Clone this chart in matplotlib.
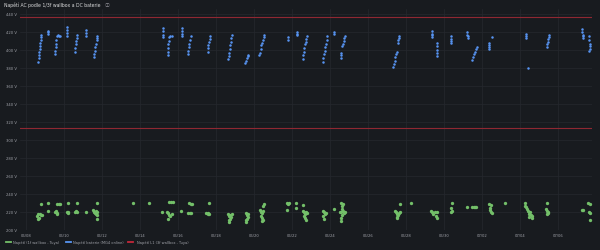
import numpy as np
import matplotlib
matplotlib.use("Agg")
import matplotlib.pyplot as plt
from matplotlib.lines import Line2D

# x = days since 06/08 00:00
date_ticks = [0, 2, 4, 6, 8, 10, 12, 14, 16, 18, 20, 22, 24, 26, 28]
date_labels = ["06/08", "06/10", "06/12", "06/14", "06/16", "06/18", "06/20", "06/22",
               "06/24", "06/26", "06/28", "06/30", "07/02", "07/04", "07/06"]
volt_ticks = [200, 220, 240, 260, 280, 300, 320, 340, 360, 380, 400, 420, 440]

# Napětí baterie (MG4 online): (day, V)
battery = [
    (0.65, 387), (0.67, 391), (0.68, 394), (0.70, 398), (0.71, 401), (0.73, 404), (0.75, 408), (0.77, 411), (0.79, 414), (0.80, 416),
    (1.14, 421.5), (1.15, 419.5), (1.15, 417.5),
    (1.53, 395), (1.54, 399), (1.56, 403), (1.58, 407), (1.59, 411), (1.61, 415), (1.66, 416), (1.72, 415.5), (1.79, 415),
    (2.14, 425), (2.14, 422), (2.14, 419), (2.15, 415),
    (2.58, 398), (2.60, 402), (2.62, 406), (2.64, 410), (2.66, 413), (2.67, 416),
    (3.16, 422.5), (3.16, 419), (3.17, 415),
    (3.58, 391.5), (3.60, 395), (3.63, 399), (3.65, 403), (3.68, 407), (3.71, 411), (3.73, 413), (3.75, 415),
    (7.19, 424), (7.19, 421), (7.19, 417), (7.20, 414),
    (7.45, 394), (7.46, 398), (7.48, 402), (7.49, 406), (7.51, 410), (7.53, 414), (7.58, 415.5), (7.67, 415),
    (8.19, 424), (8.19, 421), (8.20, 418), (8.20, 415),
    (8.51, 395), (8.54, 399), (8.57, 403), (8.60, 407), (8.63, 411), (8.67, 415),
    (9.56, 398), (9.58, 402), (9.60, 405), (9.63, 409), (9.66, 412), (9.68, 415),
    (10.65, 390), (10.67, 393), (10.69, 397), (10.72, 401), (10.75, 405), (10.78, 409), (10.81, 413), (10.83, 416),
    (11.53, 385), (11.57, 388), (11.62, 391), (11.66, 393), (11.70, 394.5),
    (12.28, 394), (12.31, 397), (12.35, 401), (12.39, 405), (12.43, 408), (12.47, 411), (12.50, 414), (12.53, 416),
    (13.77, 414), (13.77, 411),
    (14.26, 420), (14.27, 418), (14.27, 416),
    (14.56, 390), (14.59, 394), (14.62, 398), (14.65, 402), (14.69, 406), (14.72, 409), (14.75, 412), (14.77, 415),
    (15.61, 387), (15.64, 391), (15.67, 395), (15.71, 399), (15.74, 403), (15.78, 407), (15.82, 411), (15.86, 415),
    (16.23, 419.5), (16.23, 418),
    (16.56, 390.5), (16.58, 394), (16.60, 397), (16.65, 404), (16.68, 407), (16.72, 410), (16.76, 413), (16.79, 415),
    (19.33, 380.5), (19.36, 384), (19.40, 388), (19.44, 392), (19.49, 395), (19.54, 398), (19.57, 408), (19.60, 411), (19.63, 413), (19.65, 415),
    (21.35, 421), (21.35, 418), (21.36, 416), (21.36, 414),
    (21.61, 408), (21.61, 404), (21.61, 400), (21.62, 397), (21.62, 393),
    (22.37, 415), (22.37, 412), (22.38, 410), (22.38, 407.5),
    (23.23, 420), (23.23, 417), (23.24, 415), (23.24, 413),
    (23.49, 389), (23.53, 392), (23.57, 395), (23.62, 398), (23.67, 401), (23.72, 403),
    (24.38, 407.5), (24.38, 405), (24.39, 403), (24.39, 401), (24.51, 414),
    (26.30, 417.5), (26.30, 415), (26.31, 413),
    (26.44, 379.5),
    (27.40, 403), (27.43, 406), (27.46, 409), (27.49, 412), (27.52, 414), (27.54, 416),
    (29.28, 423), (29.28, 420), (29.29, 417), (29.29, 415), (29.30, 413),
    (29.65, 415), (29.65, 411), (29.66, 407), (29.66, 404), (29.66, 401), (29.63, 399),
]

# Napětí (1f wallbox - Tuya): (day, V)
wallbox_1f = [
    (0.77, 228.3), (0.60, 215), (0.63, 216.8), (0.68, 213), (0.72, 217), (0.80, 216.5), (0.65, 212), (0.83, 216),
    (1.17, 229.8), (1.17, 220.1),
    (1.62, 228.7), (1.72, 228.7), (1.79, 228.7),
    (1.53, 220), (1.58, 220.5), (1.62, 218), (1.65, 216.8),
    (2.19, 229.8), (2.14, 220), (2.20, 219.5), (2.23, 218.6),
    (2.67, 229), (2.58, 220), (2.63, 220.3), (2.67, 219.8),
    (3.16, 220),
    (3.72, 229.8), (3.54, 222), (3.60, 220), (3.64, 218.5), (3.68, 217), (3.72, 219), (3.75, 215.6), (3.70, 221), (3.72, 212),
    (5.61, 229.8), (6.46, 229),
    (7.18, 220), (7.54, 230.5), (7.64, 230.5), (7.72, 231),
    (7.40, 220), (7.45, 218), (7.52, 216.5), (7.60, 215), (7.67, 217), (7.49, 212),
    (8.17, 221), (8.60, 229.8), (8.66, 228.5), (8.72, 228), (8.54, 218.6), (8.62, 218.2), (8.68, 218.6),
    (9.65, 229), (9.47, 218.6), (9.55, 218), (9.60, 217.2), (9.65, 216.8),
    (10.65, 217.6), (10.70, 215.5), (10.75, 216.5), (10.80, 214), (10.72, 212), (10.68, 210.5), (10.83, 217), (10.66, 208.8),
    (11.58, 218.6), (11.63, 216), (11.66, 214), (11.62, 212), (11.58, 210.5), (11.70, 217.5), (11.60, 208.8),
    (12.30, 222), (12.35, 220), (12.40, 218), (12.45, 221), (12.50, 228.7), (12.48, 226), (12.38, 215), (12.42, 212.5), (12.45, 210.5), (12.40, 209.3),
    (13.75, 229), (13.86, 229), (13.80, 228.5), (13.75, 221.6),
    (14.20, 229.8), (14.20, 224.2), (14.56, 226.8),
    (14.60, 220.4), (14.65, 219), (14.70, 217.5), (14.77, 218.5), (14.62, 215), (14.68, 213), (14.72, 210.4), (14.75, 220),
    (15.62, 220.4), (15.68, 219), (15.72, 217), (15.79, 218), (15.65, 215), (15.70, 212),
    (16.20, 222.4),
    (16.60, 229), (16.70, 228.5), (16.65, 226), (16.62, 223), (16.55, 220), (16.60, 219), (16.68, 220.5), (16.75, 218), (16.78, 219.5), (16.63, 216), (16.60, 213), (16.57, 209.3),
    (19.42, 220.4), (19.48, 219), (19.52, 217.5), (19.58, 216.5), (19.62, 218), (19.68, 220), (19.50, 214), (19.55, 212.5), (19.68, 228),
    (20.26, 229.8),
    (21.30, 220.4), (21.35, 219), (21.40, 217.8), (21.55, 220), (21.62, 219.6), (21.60, 215), (21.62, 213),
    (22.40, 229), (22.37, 224.2), (22.35, 220), (22.40, 220.4),
    (23.19, 225), (23.46, 225), (23.56, 225.2), (23.62, 224.5), (23.68, 225),
    (24.38, 228.7), (24.45, 226.8), (24.40, 224), (24.44, 221.5), (24.48, 219.5), (24.51, 218),
    (25.23, 229.8),
    (26.26, 229.8), (26.26, 226), (26.32, 225), (26.38, 223), (26.44, 221), (26.48, 220), (26.55, 219), (26.50, 217.5), (26.58, 216), (26.65, 215.5), (26.45, 214), (26.62, 212.3),
    (27.44, 229), (27.37, 223), (27.40, 221), (27.46, 220), (27.48, 218), (27.40, 217.6),
    (29.25, 221.6), (29.30, 221.8), (29.60, 229), (29.70, 228.6), (29.63, 219.4), (29.66, 218), (29.68, 210.4),
]

# Napětí L1 (3f wallbox - Tuya)
l1_levels = [437, 312.5]

BG = "#181b1f"
GRID = "#25282e"
TXT = "#9fa1a8"
GREEN, BLUE, RED = "#73bf69", "#5794f2", "#8f2832"

plt.rcParams["font.family"] = ["DejaVu Sans", "Noto Sans CJK SC"]

fig = plt.figure(figsize=(6, 2.51), dpi=100, facecolor=BG)
ax = fig.add_axes([20 / 600, 1 - 230.5 / 251, 572 / 600, (230.5 - 9.5) / 251], facecolor=BG)

b = np.array(battery)
g = np.array(wallbox_1f)
for lvl in l1_levels:
    ax.axhline(lvl, color=RED, lw=0.8, zorder=2)
ax.plot(b[:, 0], b[:, 1], "o", ms=1.8, mew=0, color=BLUE, zorder=3)
ax.plot(g[:, 0], g[:, 1], "o", ms=2.4, mew=0, color=GREEN, zorder=3)

ax.set_xlim(-0.32, 29.79)
ax.set_ylim(200, 446)
ax.set_xticks(date_ticks)
ax.set_xticklabels(date_labels)
ax.set_yticks(volt_ticks)
ax.set_yticklabels([f"{v} V" for v in volt_ticks])
ax.tick_params(length=0, labelsize=2.7, colors=TXT, pad=2.5)
ax.grid(color=GRID, lw=0.5)
ax.set_axisbelow(True)
for s in ax.spines.values():
    s.set_visible(False)

fig.text(3.5 / 600, 1 - 5.5 / 251, "Napětí AC podle 1/3f wallbox a DC baterie", fontsize=3.3,
         color="#d8d9da", va="center", ha="left")
fig.text(104.5 / 600, 1 - 5.5 / 251, "ⓘ", fontsize=3.6, color="#8e8e95", va="center", ha="left",
         family=["Noto Sans CJK SC", "DejaVu Sans"])

# legend along the bottom
leg_y = 1 - 243 / 251
for x0, col, label, tx in [(6, "#73bf69", "Napětí (1f wallbox - Tuya)", 13),
                           (66, BLUE, "Napětí baterie (MG4 online)", 73),
                           (128, "#c4283a", "Napětí L1 (3f wallbox - Tuya)", 137)]:
    fig.add_artist(Line2D([x0 / 600, (x0 + 5) / 600], [leg_y, leg_y], color=col, lw=1.3,
                          transform=fig.transFigure))
    fig.text(tx / 600, leg_y, label, fontsize=2.6, color=TXT, va="center", ha="left")

fig.savefig("out.png", dpi=100, facecolor=BG)
